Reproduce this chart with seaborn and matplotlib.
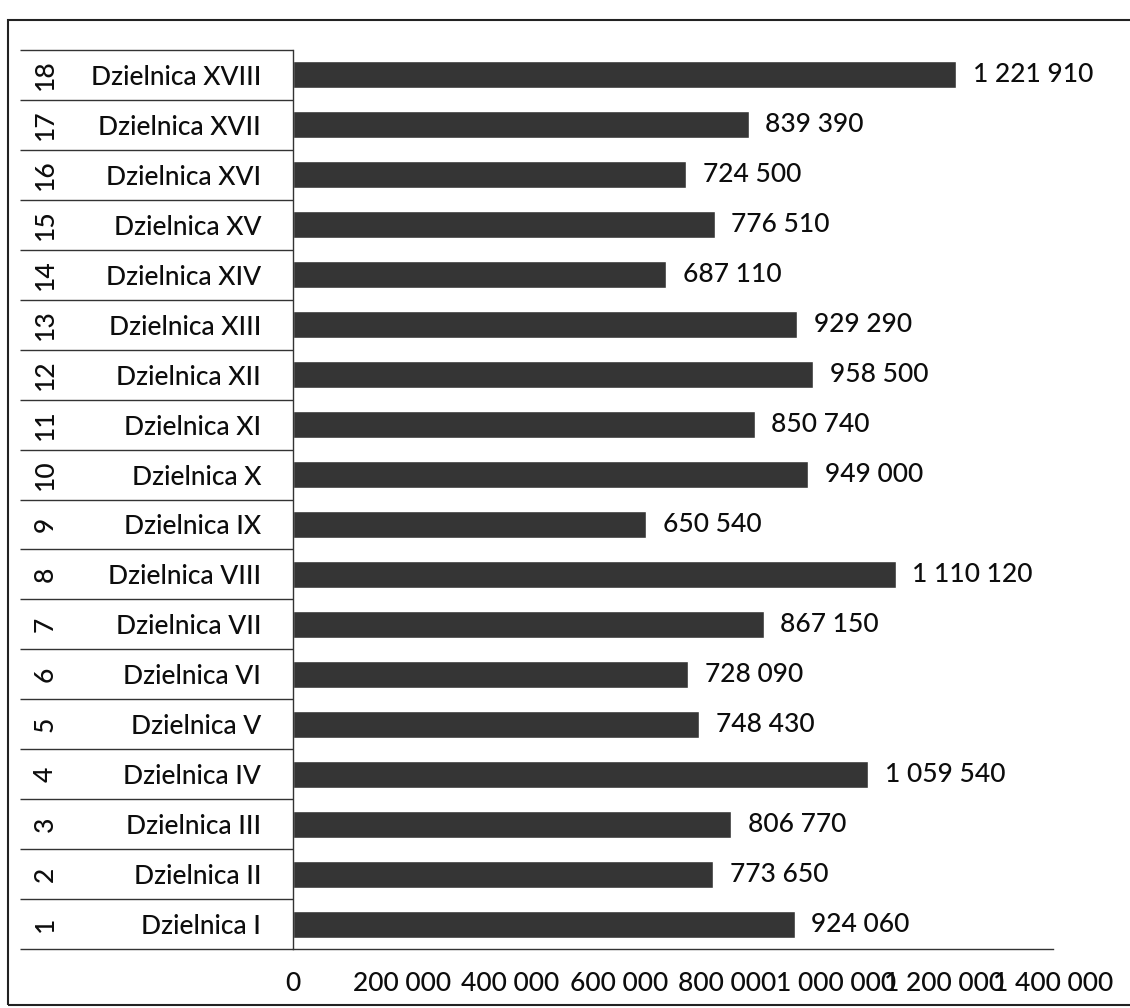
import matplotlib
matplotlib.use("Agg")
import matplotlib.pyplot as plt
from matplotlib.patches import Rectangle
import pandas as pd
import seaborn as sns

# data, district 1..18
numbers = list(range(1, 19))
districts = ["Dzielnica I", "Dzielnica II", "Dzielnica III", "Dzielnica IV",
             "Dzielnica V", "Dzielnica VI", "Dzielnica VII", "Dzielnica VIII",
             "Dzielnica IX", "Dzielnica X", "Dzielnica XI", "Dzielnica XII",
             "Dzielnica XIII", "Dzielnica XIV", "Dzielnica XV", "Dzielnica XVI",
             "Dzielnica XVII", "Dzielnica XVIII"]
values = [924060, 773650, 806770, 1059540, 748430, 728090, 867150, 1110120,
          650540, 949000, 850740, 958500, 929290, 687110, 776510, 724500,
          839390, 1221910]
xticks = [0, 200000, 400000, 600000, 800000, 1000000, 1200000, 1400000]

df = pd.DataFrame({"nr": numbers, "dzielnica": districts, "wartosc": values})
order = districts[::-1]  # 18 on top

sns.set_style("white")
plt.rcParams["font.family"] = ["Lato", "DejaVu Sans"]
plt.rcParams["font.weight"] = "medium"

def fmt(v):
    return f"{int(round(v)):,}".replace(",", " ")

fs = 19
txt = "#0d0d0d"

fig = plt.figure(figsize=(11.3, 10.08), dpi=100)
ax = fig.add_axes([293/1130, 1 - 949/1008, 760/1130, 899/1008])

sns.barplot(data=df, y="dzielnica", x="wartosc", order=order, orient="h",
            color="#353535", saturation=1, width=0.54, ax=ax)

ax.set_xlim(0, 1400000)
ax.set_ylim(len(order) - 0.5, -0.5)
ax.set_xticks(xticks)
ax.set_xticklabels([fmt(t) for t in xticks], fontsize=fs, color=txt)
ax.tick_params(axis="x", length=0, pad=16)
ax.tick_params(axis="y", length=0, pad=23, labelsize=fs, labelcolor=txt)
ax.set_xlabel("")
ax.set_ylabel("")

for s in ["top", "right"]:
    ax.spines[s].set_visible(False)
for s in ["left", "bottom"]:
    ax.spines[s].set_color("#333333")
    ax.spines[s].set_linewidth(1.0)

# value labels at bar ends
for cont in ax.containers:
    ax.bar_label(cont, labels=[fmt(v) for v in cont.datavalues],
                 padding=12, fontsize=fs, color=txt)

# table rows on the left: separators and rotated numbers
tr = ax.get_yaxis_transform()
x0 = (20 - 293) / 760
ax.hlines([i - 0.5 for i in range(len(order) + 1)], x0, 0, transform=tr,
          colors="#333333", linewidth=1.0, clip_on=False)
for i, name in enumerate(order):
    nr = df.loc[df["dzielnica"] == name, "nr"].iloc[0]
    ax.text((45 - 293) / 760, i, str(nr), transform=tr, rotation=90,
            ha="center", va="center", fontsize=fs, color=txt)

# outer frame of the scan
fig.patches.append(Rectangle((8/1130, 3/1008), 1.2, 985/1008,
                             transform=fig.transFigure, fill=False,
                             edgecolor="#222222", linewidth=1.5))

fig.savefig("out.png", dpi=100)
